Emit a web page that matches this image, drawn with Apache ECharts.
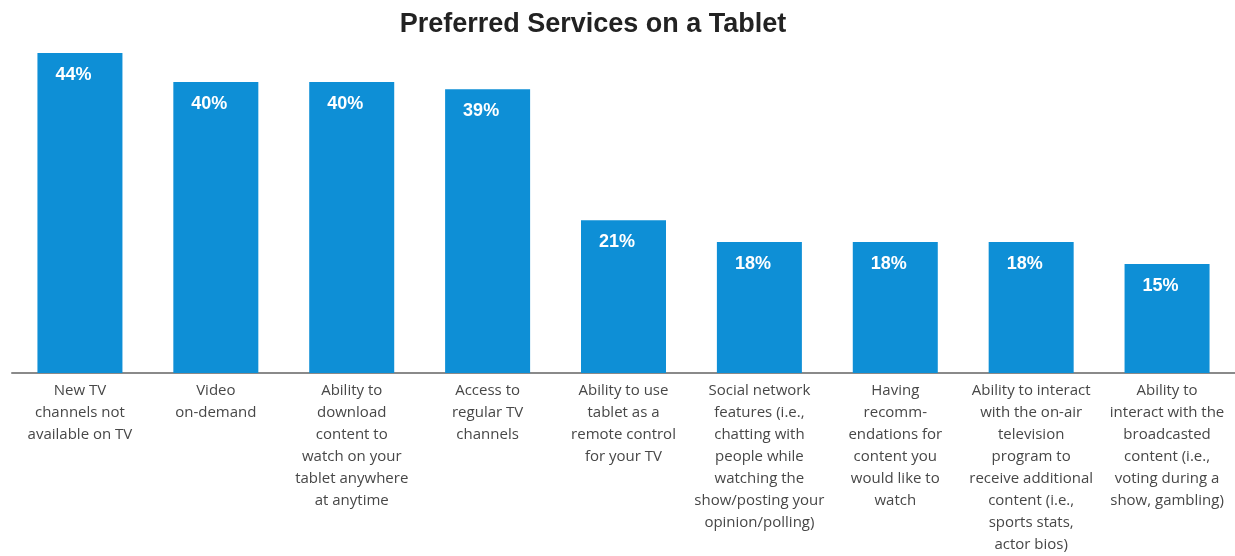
<!DOCTYPE html>
<html>
<head>
<meta charset="utf-8">
<title>Preferred Services on a Tablet</title>
<script src="https://cdn.jsdelivr.net/npm/echarts@6/dist/echarts.min.js"></script>
<style>
  html, body { margin: 0; padding: 0; background: #ffffff; }
  #chart { width: 1235px; height: 556px; }
</style>
</head>
<body>
<div id="chart"></div>
<script>
// Survey categories (line breaks as printed under each bar)
const categories = [
  'New TV\nchannels not\navailable on TV',
  'Video\non-demand',
  'Ability to\ndownload\ncontent to\nwatch on your\ntablet anywhere\nat anytime',
  'Access to\nregular TV\nchannels',
  'Ability to use\ntablet as a\nremote control\nfor your TV',
  'Social network\nfeatures (i.e.,\nchatting with\npeople while\nwatching the\nshow/posting your\nopinion/polling)',
  'Having\nrecomm-\nendations for\ncontent you\nwould like to\nwatch',
  'Ability to interact\nwith the on-air\ntelevision\nprogram to\nreceive additional\ncontent (i.e.,\nsports stats,\nactor bios)',
  'Ability to\ninteract with the\nbroadcasted\ncontent (i.e.,\nvoting during a\nshow, gambling)'
];

// Share of respondents preferring each service (%)
const shares = [44, 40, 40, 39, 21, 18, 18, 18, 15];

const chart = echarts.init(document.getElementById('chart'), null, { renderer: 'canvas' });

chart.setOption({
  backgroundColor: '#ffffff',
  animation: false,
  title: {
    text: 'Preferred Services on a Tablet',
    left: 588,
    top: 6,
    textAlign: 'center',
    textStyle: {
      fontFamily: '"Liberation Sans", Arial, sans-serif',
      fontWeight: 'bold',
      fontSize: 27,
      color: '#222222'
    }
  },
  grid: {
    left: 12,
    right: 0,
    top: 53,
    bottom: 175,
    containLabel: false
  },
  xAxis: {
    type: 'category',
    data: categories,
    axisLine: { show: true, lineStyle: { color: '#8a8a8a', width: 2 } },
    axisTick: { show: false },
    axisLabel: {
      interval: 0,
      margin: 7,
      fontFamily: '"Open Sans", sans-serif',
      fontSize: 15,
      lineHeight: 22,
      color: '#474747',
      align: 'center'
    }
  },
  yAxis: {
    type: 'value',
    min: 0,
    max: 44,
    show: false,
    splitLine: { show: false }
  },
  series: [{
    type: 'bar',
    data: shares,
    barWidth: 85,
    itemStyle: { color: '#0e8fd6' },
    label: {
      show: true,
      position: [18, 13],
      formatter: '{c}%',
      color: '#ffffff',
      fontFamily: '"Liberation Sans", Arial, sans-serif',
      fontWeight: 'bold',
      fontSize: 18
    }
  }]
});
</script>
</body>
</html>
